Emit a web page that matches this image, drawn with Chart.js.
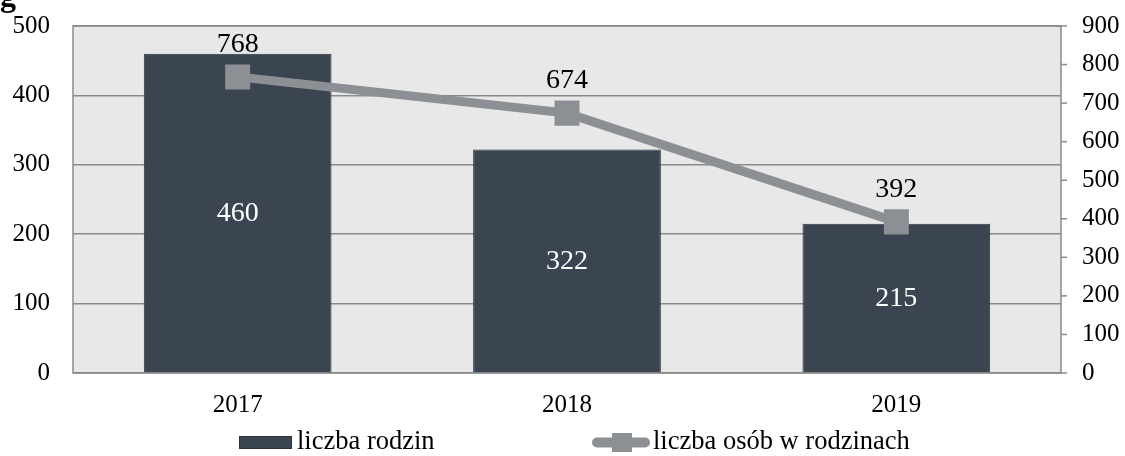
<!DOCTYPE html>
<html><head><meta charset="utf-8">
<script src="https://cdn.jsdelivr.net/npm/chart.js@4"></script>
<style>html,body{margin:0;padding:0;background:#fff;}#wrap{width:1125px;height:456px;position:relative;}</style>
</head><body><div id="wrap"><canvas id="c" width="1125" height="456"></canvas></div>
<script>
const categories = ['2017', '2018', '2019'];
const families = [460, 322, 215];
const persons = [768, 674, 392];
const leftTicks = [0, 100, 200, 300, 400, 500];
const rightTicks = [0, 100, 200, 300, 400, 500, 600, 700, 800, 900];
const seriesNames = ['liczba rodzin', 'liczba osób w rodzinach'];

const FONT = '"Liberation Serif", "Times New Roman", serif';
const BAR = '#3b4451', BAR_BORDER = '#2c333c', LINE = '#8c8f93';

const bgPlugin = {
  id: 'bg',
  beforeDraw(chart) {
    const {ctx, chartArea: a} = chart;
    ctx.save();
    ctx.fillStyle = '#e8e8e8';
    ctx.fillRect(a.left, a.top, a.right - a.left, a.bottom - a.top);
    ctx.restore();
  }
};
const borderPlugin = {
  id: 'border',
  beforeDatasetsDraw(chart) {
    const {ctx, chartArea: a} = chart;
    ctx.save();
    ctx.strokeStyle = '#8a8a8a';
    ctx.lineWidth = 1.5;
    ctx.strokeRect(a.left, a.top, a.right - a.left, a.bottom - a.top);
    const y1 = chart.scales.y1;
    rightTicks.forEach(v => {
      const y = y1.getPixelForValue(v);
      ctx.beginPath(); ctx.moveTo(a.right, y); ctx.lineTo(a.right + 6, y); ctx.stroke();
    });
    ctx.restore();
  }
};
const labelPlugin = {
  id: 'labels',
  afterDatasetsDraw(chart) {
    const {ctx} = chart;
    ctx.save();
    ctx.font = '28px ' + FONT;
    ctx.textAlign = 'center'; ctx.textBaseline = 'middle';
    const m0 = chart.getDatasetMeta(0);
    m0.data.forEach((bar, i) => {
      ctx.fillStyle = '#ffffff';
      ctx.fillText(String(families[i]), bar.x, (bar.y + bar.base) / 2 + 1);
    });
    const m1 = chart.getDatasetMeta(1);
    m1.data.forEach((pt, i) => {
      ctx.fillStyle = '#000000';
      ctx.fillText(String(persons[i]), pt.x, pt.y - 32);
    });
    // cropped title descender
    ctx.font = 'bold 32px ' + FONT;
    ctx.textAlign = 'left'; ctx.textBaseline = 'alphabetic';
    ctx.fillText('g', 0, 6);
    // legend
    ctx.font = '26.5px ' + FONT;
    ctx.textBaseline = 'middle';
    const ly = 442;
    ctx.fillStyle = BAR;
    ctx.fillRect(239, 436, 53, 13);
    ctx.strokeStyle = BAR_BORDER; ctx.lineWidth = 1;
    ctx.strokeRect(239.5, 436.5, 52, 12);
    ctx.fillStyle = '#000';
    ctx.fillText(seriesNames[0], 297, ly);
    ctx.strokeStyle = LINE; ctx.lineWidth = 10; ctx.lineCap = 'round';
    ctx.beginPath(); ctx.moveTo(597, 442.5); ctx.lineTo(645, 442.5); ctx.stroke();
    ctx.fillStyle = LINE;
    ctx.fillRect(612, 433, 20, 19);
    ctx.fillStyle = '#000';
    ctx.fillText(seriesNames[1], 653, ly);
    ctx.restore();
  }
};

function noPad(s) { s.paddingTop = 0; s.paddingBottom = 0; s.paddingLeft = 0; s.paddingRight = 0; }

new Chart(document.getElementById('c'), {
  data: {
    labels: categories,
    datasets: [
      {
        type: 'bar', label: seriesNames[0], data: families, yAxisID: 'y',
        backgroundColor: BAR, borderColor: BAR_BORDER, borderWidth: 1,
        barPercentage: 0.57, categoryPercentage: 1.0, order: 2
      },
      {
        type: 'line', label: seriesNames[1], data: persons, yAxisID: 'y1',
        borderColor: LINE, borderWidth: 9, pointStyle: 'rect', pointRadius: 17.7,
        pointBackgroundColor: LINE, pointBorderColor: LINE, pointBorderWidth: 0,
        tension: 0, order: 1
      }
    ]
  },
  options: {
    responsive: false, animation: false, devicePixelRatio: 1,
    layout: {padding: {top: 26, bottom: 33, left: 0, right: 0}},
    plugins: {legend: {display: false}, tooltip: {enabled: false}},
    scales: {
      x: {
        position: 'bottom',
        grid: {display: false, drawTicks: false},
        border: {display: false},
        ticks: {font: {family: FONT, size: 25}, color: '#000', padding: 17},
        afterFit(s) { s.height = 50; noPad(s); }
      },
      y: {
        position: 'left', min: 0, max: 500,
        afterBuildTicks(s) { s.ticks = leftTicks.map(v => ({value: v})); },
        grid: {color: '#8a8a8a', lineWidth: 1.5, drawTicks: false},
        border: {display: false},
        ticks: {font: {family: FONT, size: 25}, color: '#000', padding: 23},
        afterFit(s) { s.width = 73; noPad(s); }
      },
      y1: {
        position: 'right', min: 0, max: 900,
        afterBuildTicks(s) { s.ticks = rightTicks.map(v => ({value: v})); },
        grid: {display: false, drawTicks: false},
        border: {display: false},
        ticks: {font: {family: FONT, size: 25}, color: '#000', padding: 21},
        afterFit(s) { s.width = 64; noPad(s); }
      }
    }
  },
  plugins: [bgPlugin, borderPlugin, labelPlugin]
});
</script></body></html>
